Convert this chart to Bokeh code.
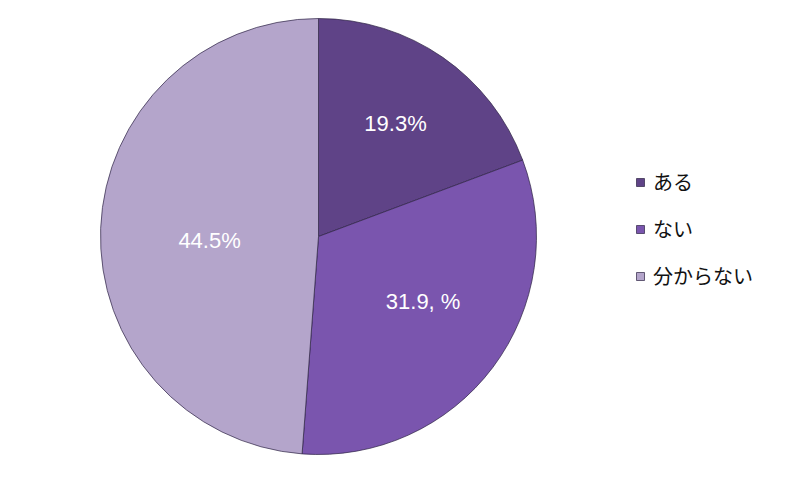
import math
from bokeh.plotting import figure
from bokeh.models import ColumnDataSource, Legend, LegendItem, Range1d
from bokeh.embed import file_html
from bokeh.core.properties import value
from bokeh.resources import INLINE

categories = ["ある", "ない", "分からない"]
shares = [19.3, 31.9, 48.8]
label_texts = ["19.3%", "31.9, %", "44.5%"]
colors = ["#5f4387", "#7a55ae", "#b4a5cb"]

W, H = 784, 467
cx, cy, R = 318, H - 236, 218
label_frac = [0.62, 0.6, 0.5]
label_shift = [-2, -14, 8]

starts, ends, lx, ly = [], [], [], []
cum = 0.0
for i, s in enumerate(shares):
    a0 = math.radians(90 - cum * 3.6)
    a1 = math.radians(90 - (cum + s) * 3.6)
    mid = (a0 + a1) / 2
    starts.append(a0)
    ends.append(a1)
    lx.append(cx + label_frac[i] * R * math.cos(mid))
    ly.append(cy + label_frac[i] * R * math.sin(mid))
    cum += s

src = ColumnDataSource(dict(cat=categories, start=starts, end=ends, color=colors,
                            lx=lx, ly=ly, txt=label_texts, dy=label_shift))

p = figure(width=W, height=H, output_backend="svg", toolbar_location=None,
           x_range=Range1d(0, W), y_range=Range1d(0, H), min_border=0)
p.axis.visible = False
p.grid.visible = False
p.outline_line_color = None

r = p.wedge(x=cx, y=cy, radius=R, start_angle="start", end_angle="end",
            direction="clock", fill_color="color", line_color="#2e2344",
            line_width=1, line_alpha=0.7, source=src)

p.text(x="lx", y="ly", text="txt", source=src, text_align="center",
       text_baseline="middle", text_color="white", text_font_size="22px",
       y_offset="dy", text_font=value("Liberation Sans"))

items = [LegendItem(label=c, renderers=[r], index=i) for i, c in enumerate(categories)]
legend = Legend(items=items, location=(635, 177), padding=0, margin=0,
                glyph_width=10, glyph_height=10, label_standoff=8,
                label_height=24, spacing=18,
                label_text_font="Noto Sans CJK JP", label_text_font_size="20px",
                label_text_color="#111111",
                border_line_alpha=0, background_fill_alpha=0)
p.add_layout(legend)

open("out.html", "w").write(file_html(p, INLINE))
